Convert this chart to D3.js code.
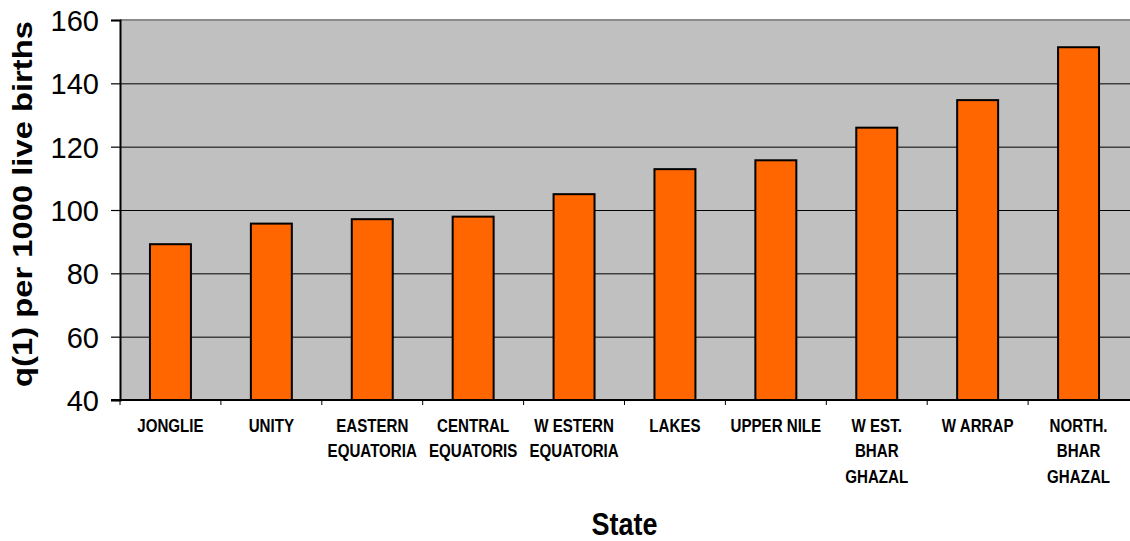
<!DOCTYPE html>
<html>
<head>
<meta charset="utf-8">
<script src="https://cdn.jsdelivr.net/npm/d3@7"></script>
<style>
  html, body { margin: 0; padding: 0; background: #fff; }
  svg { display: block; font-family: "Liberation Sans", Arial, sans-serif; }
</style>
</head>
<body>
<svg id="chart" width="1130" height="541"></svg>
<script>
// Under-one mortality by state
const states = [
  ["JONGLIE"],
  ["UNITY"],
  ["EASTERN", "EQUATORIA"],
  ["CENTRAL", "EQUATORIS"],
  ["W ESTERN", "EQUATORIA"],
  ["LAKES"],
  ["UPPER NILE"],
  ["W EST.", "BHAR", "GHAZAL"],
  ["W ARRAP"],
  ["NORTH.", "BHAR", "GHAZAL"]
];
const q1Values = [89.2, 95.7, 97.1, 97.9, 105.0, 112.9, 115.7, 126.0, 134.7, 151.4];
const yTicks = [40, 60, 80, 100, 120, 140, 160];
const yTitle = "q(1) per 1000 live births";
const xTitle = "State";

const svg = d3.select("#chart");
const plotL = 120, plotR = 1129, plotT = 20, plotB = 400;
const keys = states.map((s, i) => i);

const x = d3.scaleBand().domain(keys).range([plotL, plotR])
  .paddingInner(0.594).paddingOuter(0.297);
const y = d3.scaleLinear().domain([40, 160]).range([plotB, plotT]);

// plot background
svg.append("rect")
  .attr("x", plotL).attr("y", plotT)
  .attr("width", 1130 - plotL).attr("height", plotB - plotT)
  .attr("fill", "#c0c0c0");

// horizontal gridlines
svg.append("g").selectAll("line")
  .data(yTicks.filter(t => t > 40 && t < 160))
  .join("line")
  .attr("x1", plotL).attr("x2", 1130)
  .attr("y1", d => y(d) + 0.5).attr("y2", d => y(d) + 0.5)
  .attr("stroke", "#000").attr("stroke-width", 1);

// top border
svg.append("line")
  .attr("x1", plotL).attr("x2", 1130)
  .attr("y1", y(160)).attr("y2", y(160))
  .attr("stroke", "#8a8a8a").attr("stroke-width", 2);

// bars
svg.append("g").selectAll("rect")
  .data(q1Values)
  .join("rect")
  .attr("x", (d, i) => x(i))
  .attr("width", x.bandwidth())
  .attr("y", d => y(d))
  .attr("height", d => y(40) - y(d))
  .attr("fill", "#ff6600")
  .attr("stroke", "#000")
  .attr("stroke-width", 2);

// y axis
const yAxis = d3.axisLeft(y).tickValues(yTicks).tickSize(9).tickPadding(12);
const gy = svg.append("g").attr("transform", `translate(${plotL},0)`).call(yAxis);
gy.select(".domain").attr("stroke", "#000").attr("stroke-width", 2);
gy.selectAll(".tick line").attr("stroke", "#000").attr("stroke-width", 1.2);
gy.selectAll(".tick text")
  .attr("font-family", "'Liberation Sans', Arial, sans-serif")
  .attr("font-size", 29).attr("fill", "#000")
  .attr("dy", "0.36em");

// x axis line and category separators
svg.append("line")
  .attr("x1", plotL - 9).attr("x2", 1130)
  .attr("y1", plotB).attr("y2", plotB)
  .attr("stroke", "#000").attr("stroke-width", 2);
const step = x.step();
svg.append("g").selectAll("line")
  .data(keys)
  .join("line")
  .attr("x1", d => x(d) + x.bandwidth() / 2 - step / 2)
  .attr("x2", d => x(d) + x.bandwidth() / 2 - step / 2)
  .attr("y1", plotB).attr("y2", plotB + 5)
  .attr("stroke", "#000").attr("stroke-width", 1);

// category labels
const lab = svg.append("g").selectAll("g")
  .data(states)
  .join("g")
  .attr("transform", (d, i) => `translate(${x(i) + x.bandwidth() / 2},0) scale(0.84,1)`);
lab.selectAll("text")
  .data(d => d)
  .join("text")
  .attr("x", 0)
  .attr("y", (d, j) => 432 + j * 25.5)
  .attr("text-anchor", "middle")
  .attr("font-weight", "bold")
  .attr("font-size", 18)
  .attr("fill", "#000")
  .text(d => d);

// axis titles
svg.append("text")
  .attr("transform", `translate(${(plotL + plotR) / 2},535) scale(0.87,1)`)
  .attr("text-anchor", "middle")
  .attr("font-weight", "bold")
  .attr("font-size", 31)
  .text(xTitle);

svg.append("text")
  .attr("transform", `translate(32,204) rotate(-90)`)
  .attr("text-anchor", "middle")
  .attr("font-weight", "bold")
  .attr("font-size", 28)
  .attr("textLength", 366)
  .attr("lengthAdjust", "spacingAndGlyphs")
  .text(yTitle);
</script>
</body>
</html>
